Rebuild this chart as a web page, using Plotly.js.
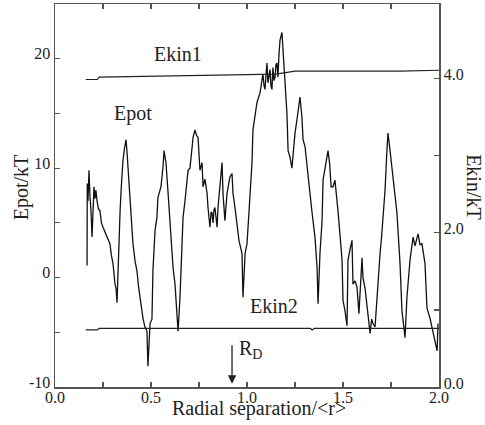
<!DOCTYPE html>
<html>
<head>
<meta charset="utf-8">
<script src="https://cdn.plot.ly/plotly-3.0.1.min.js"></script>
<style>
html,body{margin:0;padding:0;background:#fff;}
#chart{width:485px;height:425px;}
#chart svg text{font-family:'Liberation Serif','Times New Roman',serif !important;}
</style>
</head>
<body>
<div id="chart"></div>
<script>
// Epot/kT versus radial separation (left axis)
const epotX = [0.167,0.168,0.172,0.177,0.182,0.1875,0.193,0.198,0.203,0.208,0.213,0.219,0.226,0.234,0.242,0.25,0.26,0.271,0.278,0.286,0.294,0.302,0.3125,0.318,0.323,0.328,0.334,0.339,0.346,0.354,0.362,0.370,0.375,0.380,0.386,0.391,0.398,0.406,0.417,0.427,0.435,0.443,0.450,0.458,0.468,0.479,0.484,0.490,0.495,0.505,0.510,0.521,0.531,0.536,0.545,0.552,0.5625,0.568,0.573,0.578,0.589,0.599,0.609,0.615,0.625,0.635,0.641,0.651,0.661,0.667,0.677,0.6875,0.693,0.703,0.711,0.719,0.729,0.737,0.745,0.755,0.766,0.771,0.781,0.792,0.797,0.807,0.813,0.818,0.823,0.828,0.833,0.839,0.844,0.849,0.859,0.870,0.875,0.885,0.896,0.911,0.922,0.927,0.9375,0.948,0.958,0.974,0.979,0.990,1.0,1.010,1.026,1.031,1.042,1.052,1.068,1.078,1.083,1.089,1.094,1.099,1.104,1.109,1.115,1.120,1.125,1.130,1.135,1.141,1.146,1.151,1.156,1.161,1.167,1.172,1.182,1.1875,1.198,1.208,1.214,1.224,1.234,1.240,1.25,1.260,1.266,1.276,1.286,1.292,1.302,1.3125,1.318,1.328,1.339,1.344,1.354,1.365,1.370,1.380,1.391,1.396,1.406,1.422,1.430,1.438,1.448,1.458,1.474,1.485,1.495,1.5,1.510,1.521,1.526,1.536,1.547,1.552,1.563,1.573,1.583,1.599,1.604,1.615,1.625,1.633,1.641,1.649,1.656,1.667,1.677,1.693,1.700,1.708,1.719,1.727,1.734,1.745,1.760,1.770,1.781,1.797,1.807,1.823,1.833,1.849,1.865,1.875,1.891,1.901,1.911,1.927,1.9375,1.953,1.969,1.990,1.995];
const epotY = [1.1,8.6,7.0,9.8,7.5,6.1,3.7,7.0,8.3,7.2,8.0,7.0,6.3,6.1,5.0,4.6,4.2,3.7,3.4,3.1,2.0,1.3,-0.6,-1.0,-2.3,0.9,3.5,6.1,8.5,10.7,11.8,12.6,11.5,10.1,8.0,6.8,5.0,3.1,1.5,0.6,-0.8,-1.8,-3.0,-3.7,-4.5,-4.9,-8.1,-5.0,-4.2,-3.8,0.6,4.3,5.5,7.3,7.8,8.3,10.1,11.6,11.0,10.5,7.7,5.0,1.8,0.9,-0.6,-3.0,-4.9,-1.8,3.1,5.5,7.0,8.6,9.8,10.0,11.5,12.8,13.5,13.0,12.8,9.8,10.5,8.3,9.0,7.7,6.4,4.6,6.0,5.9,5.0,6.2,6.4,5.0,4.6,6.4,8.3,10.5,7.7,5.2,7.7,9.2,9.5,7.7,6.4,4.6,3.4,2.2,-1.8,2.2,3.1,5.9,10.5,13.5,15.0,16.0,16.9,17.8,18.6,17.5,17.2,18.5,19.6,17.8,18.8,19.0,17.5,17.2,19.2,18.0,18.3,19.5,19.6,18.3,20.5,21.7,22.4,20.6,18.3,15.0,11.6,11.0,10.0,11.4,13.2,14.4,15.3,16.5,14.7,12.6,12.0,10.1,8.9,7.7,5.9,5.0,3.7,0.9,-2.4,2.2,5.2,8.9,10.1,11.6,10.5,8.3,8.3,8.9,6.1,3.5,1.6,-2.1,-3.0,-4.4,1.6,2.5,3.4,-0.6,-0.3,-0.9,-3.3,1.8,0.0,-1.0,-2.8,-4.0,-5.1,-3.8,-4.2,-4.5,-1.5,2.2,3.5,5.5,8.0,11.0,13.2,11.6,9.2,7.5,5.9,1.3,-3.0,-5.5,-1.8,1.6,3.7,2.9,4.0,3.0,3.1,1.3,-2.8,-3.7,-4.9,-6.7,-4.2];

// Ekin/kT (right axis)
const ekin1X = [0.16,0.22,0.23,0.5,0.8,1.0,1.15,1.2,1.25,1.35,1.6,1.8,2.0];
const ekin1Y = [3.99,3.99,4.02,4.03,4.05,4.05,4.06,4.08,4.10,4.10,4.10,4.10,4.11];
const ekin2X = [0.16,0.22,0.23,0.6,1.0,1.33,1.34,1.35,1.7,2.0];
const ekin2Y = [0.74,0.74,0.76,0.76,0.76,0.76,0.74,0.76,0.76,0.76];

// Tick labels
const xTickVals = [0,0.25,0.5,0.75,1.0,1.25,1.5,1.75,2.0];
const xTickText = ['0.0','','0.5','','1.0','','1.5','','2.0'];
const yTickVals = [-10,-5,0,5,10,15,20,25];
const yTickText = ['-10','','0','','10','','20',''];
const y2TickVals = [0,1,2,3,4];
const y2TickText = ['0.0','','2.0','','4.0'];

const serif = 'Liberation Serif';
const txtCol = '#222';
const axisCol = '#555';

const traces = [
  {x: epotX, y: epotY, type: 'scatter', mode: 'lines', line: {color: '#111', width: 1.3}, yaxis: 'y', hoverinfo: 'skip'},
  {x: ekin1X, y: ekin1Y, type: 'scatter', mode: 'lines', line: {color: '#222', width: 1.2}, yaxis: 'y2', hoverinfo: 'skip'},
  {x: ekin2X, y: ekin2Y, type: 'scatter', mode: 'lines', line: {color: '#222', width: 1.2}, yaxis: 'y2', hoverinfo: 'skip'}
];

function ann(o) {
  return Object.assign({showarrow: false, xanchor: 'center', yanchor: 'middle', font: {family: serif, size: 20, color: txtCol}}, o);
}

const layout = {
  width: 485, height: 425,
  margin: {l: 55, r: 46, t: 4, b: 38},
  paper_bgcolor: '#fff', plot_bgcolor: '#fff',
  showlegend: false,
  font: {family: serif, size: 16, color: txtCol},
  xaxis: {
    range: [0, 2], tickmode: 'array', tickvals: xTickVals, ticktext: xTickText,
    ticks: 'inside', ticklen: 5, tickcolor: axisCol, tickwidth: 1.2,
    showline: true, linecolor: axisCol, linewidth: 1.5, mirror: 'ticks',
    showgrid: false, zeroline: false, ticklabelstandoff: -5,
    tickfont: {family: serif, size: 16, color: txtCol}
  },
  yaxis: {
    range: [-10, 25], tickmode: 'array', tickvals: yTickVals, ticktext: yTickText,
    ticks: 'inside', ticklen: 5, tickcolor: axisCol, tickwidth: 1.2,
    showline: true, linecolor: axisCol, linewidth: 1.5,
    showgrid: false, zeroline: false, ticklabelshift: -5,
    tickfont: {family: serif, size: 16, color: txtCol}
  },
  yaxis2: {
    overlaying: 'y', side: 'right',
    range: [0, 4.97], tickmode: 'array', tickvals: y2TickVals, ticktext: y2TickText,
    ticks: 'inside', ticklen: 5, tickcolor: axisCol, tickwidth: 1.2,
    showline: true, linecolor: axisCol, linewidth: 1.5,
    showgrid: false, zeroline: false, ticklabelshift: -4,
    tickfont: {family: serif, size: 16, color: txtCol}
  },
  annotations: [
    ann({xref: 'paper', yref: 'paper', x: -0.088, y: 0.522, text: 'Epot/kT', textangle: -90}),
    ann({xref: 'paper', yref: 'paper', x: 1.091, y: 0.522, text: 'Ekin/kT', textangle: 90}),
    ann({xref: 'paper', yref: 'paper', x: 0.531, y: -0.057, text: 'Radial separation/&lt;r&gt;'}),
    ann({xref: 'x', yref: 'y', x: 0.638, y: 20.4, text: 'Ekin1'}),
    ann({xref: 'x', yref: 'y', x: 0.404, y: 15.0, text: 'Epot'}),
    ann({xref: 'x', yref: 'y', x: 1.138, y: -2.6, text: 'Ekin2'}),
    ann({xref: 'x', yref: 'y', x: 0.948, y: -6.6, xanchor: 'left', text: 'R<sub>D</sub>'}),
    {xref: 'x', yref: 'y', x: 0.922, y: -9.7, text: '', showarrow: true, arrowhead: 2, arrowsize: 1.3, arrowwidth: 1.3, arrowcolor: '#222', ax: 0, ay: -40}
  ]
};

Plotly.newPlot('chart', traces, layout, {displayModeBar: false, staticPlot: true});
</script>
</body>
</html>
